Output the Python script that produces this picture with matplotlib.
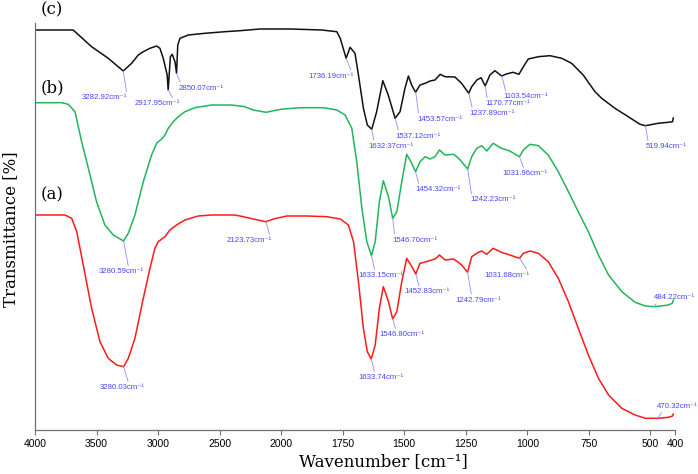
import numpy as np
import matplotlib
matplotlib.use("Agg")
import matplotlib.pyplot as plt

# ---------------- data ----------------
wn_c = [4000, 3690, 3540, 3405, 3283, 3215, 3161, 3120, 3066, 3012, 2985, 2958, 2926, 2918, 2900,
        2885, 2862, 2850, 2840, 2822, 2755, 2620, 2457, 2335, 2172, 1963, 1835, 1774, 1760, 1736,
        1720, 1700, 1686, 1666, 1650, 1632, 1612, 1587, 1565, 1537, 1517, 1497, 1483, 1470, 1454,
        1436, 1415, 1395, 1375, 1354, 1334, 1294, 1267, 1238, 1226, 1205, 1188, 1171, 1152, 1132,
        1104, 1085, 1058, 1034, 1016, 996, 955, 908, 860, 820, 773, 725, 698, 644, 590, 542, 520,
        469, 428, 410, 407]
py_c = [30, 30, 46.7, 58.3, 71, 63.3, 55, 51.7, 48.3, 46, 48.3, 58.3, 75, 90, 56.7,
        54.3, 62, 73.3, 45, 38.3, 35, 33.3, 31.7, 30.7, 29, 29, 30, 31.7, 38.3, 58.3,
        47.3, 53.3, 75, 108, 125, 129.3, 111.7, 80.7, 95, 118.3, 111.7, 88.3, 76, 85, 92.3,
        85, 83.3, 81, 80, 74.3, 76.7, 77, 83.3, 93.3, 86.7, 80, 77.7, 86, 75, 70.7,
        76, 74, 72.3, 74.3, 66.7, 59, 56.7, 55.7, 58.3, 63.3, 75, 91.7, 98.3, 108.3, 116.7, 124.3, 125.7,
        123.3, 122.3, 121.7, 118]

wn_b = [4000, 3783, 3730, 3675, 3621, 3553, 3500, 3432, 3364, 3281, 3242, 3188, 3120, 3053, 3012,
        2971, 2944, 2917, 2877, 2836, 2782, 2701, 2565, 2403, 2295, 2227, 2123, 2004, 1923, 1828,
        1774, 1740, 1713, 1693, 1672, 1652, 1633, 1618, 1601, 1585, 1564, 1547, 1530, 1510, 1490,
        1473, 1454, 1436, 1415, 1395, 1375, 1357, 1334, 1300, 1280, 1267, 1242, 1226, 1205, 1185,
        1165, 1139, 1105, 1071, 1032, 1016, 989, 955, 915, 874, 833, 793, 752, 711, 670, 616, 562,
        521, 484, 426, 410, 407]
py_b = [102.7, 102.7, 104.3, 111.7, 141.7, 175, 201.7, 225, 235, 241, 233.3, 215, 181.7, 155, 143.3,
        139, 135, 128.3, 121.7, 116.7, 111.7, 107.7, 105, 105, 106.7, 110, 112.3, 109.3, 107.7, 107.7,
        110, 115, 128.3, 161.7, 208.3, 241.7, 255.7, 241.7, 201.7, 180.7, 196.7, 218.3, 211.7, 181.7, 154.3,
        161.7, 171.7, 161.7, 156.7, 159, 156.7, 150, 155, 154.3, 158, 161.7, 169, 156.7, 148.3, 145.7,
        151, 143.3, 148.3, 151, 156.7, 150, 144.3, 145.7, 155, 171.7, 191.7, 211.7, 231.7, 255, 275, 291.7, 302.3,
        306, 306.7, 305, 303, 300]

wn_a = [4000, 3756, 3702, 3661, 3608, 3540, 3472, 3405, 3337, 3280, 3242, 3188, 3120, 3066, 3026,
        2999, 2944, 2904, 2850, 2782, 2674, 2565, 2376, 2308, 2227, 2124, 2062, 1977, 1896, 1814,
        1760, 1727, 1706, 1686, 1666, 1650, 1634, 1618, 1601, 1585, 1564, 1547, 1530, 1510, 1490,
        1473, 1453, 1436, 1410, 1389, 1375, 1357, 1334, 1300, 1280, 1267, 1243, 1226, 1199, 1185,
        1165, 1139, 1105, 1071, 1032, 1016, 989, 955, 915, 874, 833, 793, 752, 711, 670, 616, 562,
        521, 470, 426, 410, 407]
py_a = [215, 215, 218.3, 231.7, 265, 308.3, 341.7, 358.3, 365, 366.7, 358.3, 338.3, 298.3, 268.3, 248.3,
        241.7, 236.7, 230, 225, 220, 216, 215, 215, 216.7, 219, 221.7, 219, 216, 216, 216.7,
        219, 225, 241.7, 281.7, 328.3, 351.7, 359, 345, 308.3, 286.7, 301.7, 319, 311.7, 281.7, 258.3,
        265, 274, 263.3, 261.7, 260, 259, 255, 260, 259, 262.3, 265, 272.3, 256.7, 252.3, 251,
        254.3, 248.3, 252.3, 255, 258.3, 253.3, 251, 253.3, 261.7, 278.3, 301.7, 328.3, 355, 378.3, 395, 408.3, 415,
        418.3, 418.3, 417.3, 416, 414]

# transmittance in arbitrary (offset) units
T_c = [430 - v for v in py_c]
T_b = [430 - v for v in py_b]
T_a = [430 - v for v in py_a]

peaks_c = [3282.92, 2917.95, 2850.07, 1736.19, 1632.37, 1537.12, 1453.57, 1237.89, 1170.77, 1103.54, 519.94]
peaks_b = [3280.59, 1633.15, 1546.70, 1454.32, 1242.23, 1031.96, 484.22]
peaks_a = [3280.03, 2123.73, 1633.74, 1546.80, 1452.83, 1242.79, 1031.68, 470.32]

ticks = [4000, 3500, 3000, 2500, 2000, 1750, 1500, 1250, 1000, 750, 500, 400]

# label layout: (dx px, dy px down, relpos)
lay_c = [(-19, 27, (1.0, 1)), (-11, 14, (0.87, 1)), (25, 15, (0.05, 1)), (-15, 18, (0.96, 1)),
         (19, 17, (0.14, 1)), (23, 18, (0.08, 1)), (24, 27, (0.04, 1)), (23, 20, (0.08, 1)),
         (22, 18, (0.06, 1)), (24, 21, (0.06, 1)), (21, 21, (0.06, 1))]
lay_b = [(-2, 31, (0.66, 1)), (9.5, 20, (0.37, 1)), (22, 22, (0.06, 1)), (23, 18, (0.08, 1)),
         (25, 31, (0.04, 1)), (5, 17, (0.5, 1)), (20, -9, (0.1, 0))]
lay_a = [(-1, 21, (0.64, 1)), (-16.5, 19, (0.96, 1)), (10, 19, (0.36, 1)), (9, 16, (0.38, 1)),
         (11, 18, (0.34, 1)), (11, 28, (0.35, 1)), (-13, 17, (0.98, 1)), (20, -12, (0.15, 0))]

# ---------------- figure ----------------
W, H = 698, 474
fig = plt.figure(figsize=(W / 100, H / 100), dpi=100)
ax = fig.add_axes([35 / W, 1 - 430 / H, 640 / W, 407 / H])


def fwd(w):
    w = np.asarray(w, float)
    return np.where(w > 2000, 2000 + (w - 2000) / 2, w)


def inv(f):
    f = np.asarray(f, float)
    return np.where(f > 2000, 2000 + (f - 2000) * 2, f)


ax.set_xscale('function', functions=(fwd, inv))

col_c, col_b, col_a = '#111111', '#22b55a', '#ff1a1a'
ax.plot(wn_c, T_c, color=col_c, lw=1.1)
ax.plot(wn_b, T_b, color=col_b, lw=1.1)
ax.plot(wn_a, T_a, color=col_a, lw=1.1)

ax.set_xlim(4000, 400)
ax.set_ylim(0, 407)
ax.set_xticks(ticks)
ax.set_xticklabels([str(t) for t in ticks], fontfamily='Liberation Sans', fontsize=7.5)
ax.set_yticks([])
for s in ['top', 'right']:
    ax.spines[s].set_visible(False)
for s in ['left', 'bottom']:
    ax.spines[s].set_color('#707070')
    ax.spines[s].set_linewidth(0.9)
ax.tick_params(axis='x', direction='out', length=3.5, width=0.8, color='#707070', pad=3)

lab_col = '#4646ff'
line_col = '#8c8cff'
sans = ['Liberation Sans', 'DejaVu Sans']


def annotate(peaks, wn, T, lay):
    wn_r = np.asarray(wn)[::-1]
    T_r = np.asarray(T)[::-1]
    for p, (dx, dy, rp) in zip(peaks, lay):
        yv = np.interp(p, wn_r, T_r)
        ax.annotate(f"{p:.2f}cm\u207b\u00b9", xy=(p, yv), xytext=(dx * 0.72, -dy * 0.72),
                    textcoords='offset points', ha='center', va='center',
                    fontsize=5.6, color=lab_col, family=sans,
                    arrowprops=dict(arrowstyle='-', color=line_col, lw=0.6,
                                    shrinkA=0, shrinkB=0, relpos=rp))


annotate(peaks_c, wn_c, T_c, lay_c)
annotate(peaks_b, wn_b, T_b, lay_b)
annotate(peaks_a, wn_a, T_a, lay_a)

serif = ['DejaVu Serif']
for lab, (x, y) in zip(['(c)', '(b)', '(a)'], [(52, 10), (52, 88), (52, 195)]):
    fig.text(x / W, 1 - y / H, lab, ha='center', va='center', fontsize=12, family=serif)

fig.text(383 / W, 1 - 462 / H, 'Wavenumber [cm\u207b\u00b9]', ha='center', va='center',
         fontsize=12, family=serif)
fig.text(11 / W, 1 - 229 / H, 'Transmittance [%]', ha='center', va='center', rotation=90,
         fontsize=12, family=serif)

fig.savefig('out.png', dpi=100)
